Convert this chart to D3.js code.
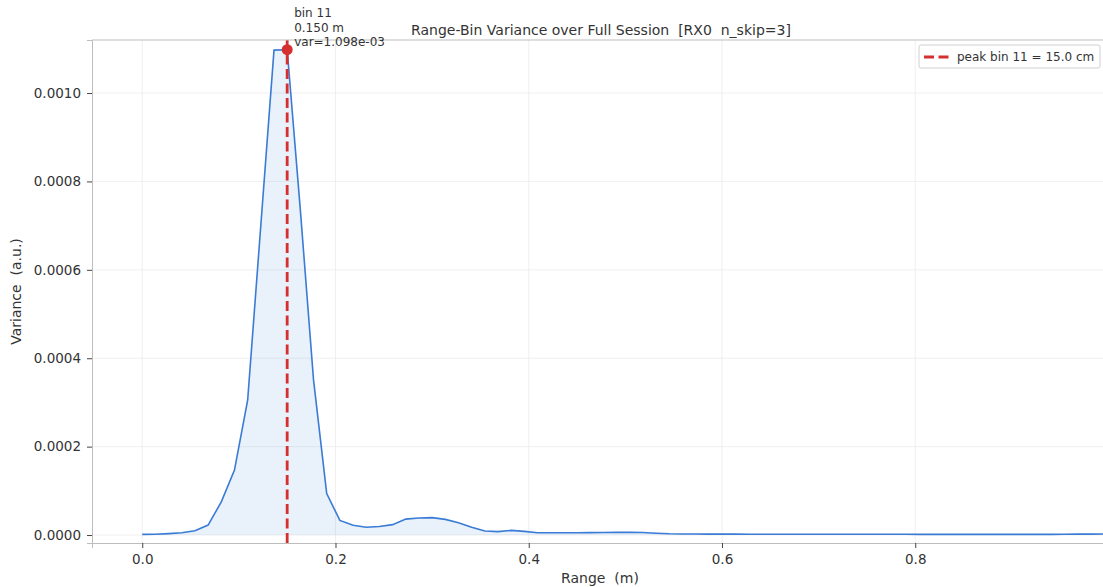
<!DOCTYPE html>
<html>
<head>
<meta charset="utf-8">
<script src="https://cdn.jsdelivr.net/npm/d3@7"></script>
<style>
  body { margin: 0; background: #fff; }
  text { font-family: "DejaVu Sans", sans-serif; fill: #333; white-space: pre; }
</style>
</head>
<body>
<div class="chart"></div>
<script>
var binStep = 0.15 / 11
// variance per range bin (bins 0..73)
var variance = [
  1.6e-6, 1.8e-6, 3.2e-6, 5.2e-6, 9.7e-6, 22.6e-6, 75e-6, 147e-6, 305e-6, 701e-6,
  1097e-6, 1098e-6, 735e-6, 351e-6, 94e-6, 33e-6, 22e-6, 17.5e-6, 19.5e-6, 23.5e-6,
  36e-6, 38.5e-6, 39.5e-6, 35.5e-6, 28e-6, 17.5e-6, 9e-6, 7.8e-6, 10.5e-6, 8.4e-6,
  5.3e-6, 5.2e-6, 5.2e-6, 5.3e-6, 5.5e-6, 5.8e-6, 6.0e-6, 6.1e-6, 5.6e-6, 4.2e-6,
  2.9e-6, 2.3e-6, 2.2e-6, 2.1e-6, 2.0e-6, 2.0e-6, 1.9e-6, 1.9e-6, 1.9e-6, 1.8e-6,
  1.8e-6, 1.8e-6, 1.8e-6, 1.7e-6, 1.7e-6, 1.7e-6, 1.7e-6, 1.7e-6, 1.7e-6, 1.6e-6,
  1.6e-6, 1.6e-6, 1.6e-6, 1.6e-6, 1.6e-6, 1.6e-6, 1.6e-6, 1.5e-6, 1.5e-6, 1.6e-6,
  1.8e-6, 2.0e-6, 2.1e-6, 2.2e-6
]
var xTicks = [0.0, 0.2, 0.4, 0.6, 0.8]
var yTicks = [0, 0.0002, 0.0004, 0.0006, 0.0008, 0.0010]
var peakBin = 11

var width = 1103
var height = 587
var margin = {top: 40, right: -5, bottom: 44, left: 92}

var data = variance.map(function(v, i) { return {r: i * binStep, v: v} })
var peak = data[peakBin]

var svg = d3.select('.chart')
  .append('svg')
  .attr('width', width)
  .attr('height', height)

var x = d3.scaleLinear()
  .domain([-0.052, 0.9995])
  .range([margin.left, width - margin.right])

var y = d3.scaleLinear()
  .domain([-0.000018, peak.v * 1.02])
  .range([height - margin.bottom, margin.top])

svg.append('clipPath').attr('id', 'clip')
  .append('rect')
  .attr('x', margin.left).attr('y', margin.top)
  .attr('width', width - margin.right - margin.left)
  .attr('height', height - margin.bottom - margin.top)

// grid
svg.append('g').selectAll('line').data(xTicks).enter().append('line')
  .attr('x1', x).attr('x2', x)
  .attr('y1', margin.top).attr('y2', height - margin.bottom)
  .style('stroke', '#ececec').style('stroke-width', 0.8)

svg.append('g').selectAll('line').data(yTicks).enter().append('line')
  .attr('x1', margin.left).attr('x2', width - margin.right)
  .attr('y1', y).attr('y2', y)
  .style('stroke', '#ececec').style('stroke-width', 0.8)

var plot = svg.append('g').attr('clip-path', 'url(#clip)')

plot.append('path')
  .datum(data)
  .attr('d', d3.area().x(function(d) { return x(d.r) }).y0(y(0)).y1(function(d) { return y(d.v) }))
  .style('fill', '#3a7bd5').style('fill-opacity', 0.11)

plot.append('path')
  .datum(data)
  .attr('d', d3.line().x(function(d) { return x(d.r) }).y(function(d) { return y(d.v) }))
  .style('fill', 'none').style('stroke', '#3a7bd5').style('stroke-width', 1.6)

plot.append('line')
  .attr('x1', x(peak.r)).attr('x2', x(peak.r))
  .attr('y1', margin.top).attr('y2', height - margin.bottom)
  .style('stroke', '#d62f2f').style('stroke-width', 2.8)
  .style('stroke-dasharray', '10,4.5')

// axes
svg.append('g')
  .attr('transform', 'translate(0,' + (height - margin.bottom) + ')')
  .call(d3.axisBottom(x).tickValues(xTicks).tickFormat(d3.format('.1f')).tickSizeOuter(0).tickSize(5).tickPadding(6))

svg.append('g')
  .attr('transform', 'translate(' + margin.left + ',0)')
  .call(d3.axisLeft(y).tickValues(yTicks).tickFormat(d3.format('.4f')).tickSizeOuter(0).tickSize(5).tickPadding(6))

svg.selectAll('.domain').style('stroke', '#bdbdbd')
svg.selectAll('.tick line').style('stroke', '#444')
svg.selectAll('.tick text').style('font-size', '13.5px').style('fill', '#333')

svg.append('line')
  .attr('x1', margin.left).attr('x2', width)
  .attr('y1', margin.top).attr('y2', margin.top)
  .style('stroke', '#bdbdbd')

// peak marker + annotation
svg.append('circle')
  .attr('cx', x(peak.r)).attr('cy', y(peak.v))
  .attr('r', 5.5)
  .style('fill', '#d62f2f')

var note = svg.append('text')
  .attr('x', x(peak.r) + 7).attr('y', 17)
  .style('font-size', '12px')
var noteLines = ['bin ' + peakBin, peak.r.toFixed(3) + ' m', 'var=' + peak.v.toExponential(3).replace('e-3', 'e-03')]
noteLines.forEach(function(t, i) {
  note.append('tspan').attr('x', x(peak.r) + 7).attr('dy', i === 0 ? 0 : 14.5).text(t)
})

// title and labels
svg.append('text')
  .attr('x', 601).attr('y', 35)
  .attr('text-anchor', 'middle')
  .style('font-size', '14px')
  .text('Range-Bin Variance over Full Session  [RX0  n_skip=3]')

svg.append('text')
  .attr('x', 600).attr('y', 583)
  .attr('text-anchor', 'middle')
  .style('font-size', '14px')
  .text('Range  (m)')

svg.append('text')
  .attr('transform', 'translate(21,' + ((margin.top + height - margin.bottom) / 2) + ') rotate(-90)')
  .attr('text-anchor', 'middle')
  .style('font-size', '14px')
  .text('Variance  (a.u.)')

// legend
var lg = svg.append('g').attr('transform', 'translate(919,45)')
lg.append('rect')
  .attr('width', 181).attr('height', 23).attr('rx', 2)
  .style('fill', '#fff').style('fill-opacity', 0.8)
  .style('stroke', '#d0d0d0')
lg.append('line')
  .attr('x1', 5).attr('x2', 30).attr('y1', 12).attr('y2', 12)
  .style('stroke', '#d62f2f').style('stroke-width', 2.8)
  .style('stroke-dasharray', '10,4.5')
lg.append('text')
  .attr('x', 38).attr('y', 16)
  .style('font-size', '12px')
  .text('peak bin ' + peakBin + ' = ' + (peak.r * 100).toFixed(1) + ' cm')
</script>
</body>
</html>
